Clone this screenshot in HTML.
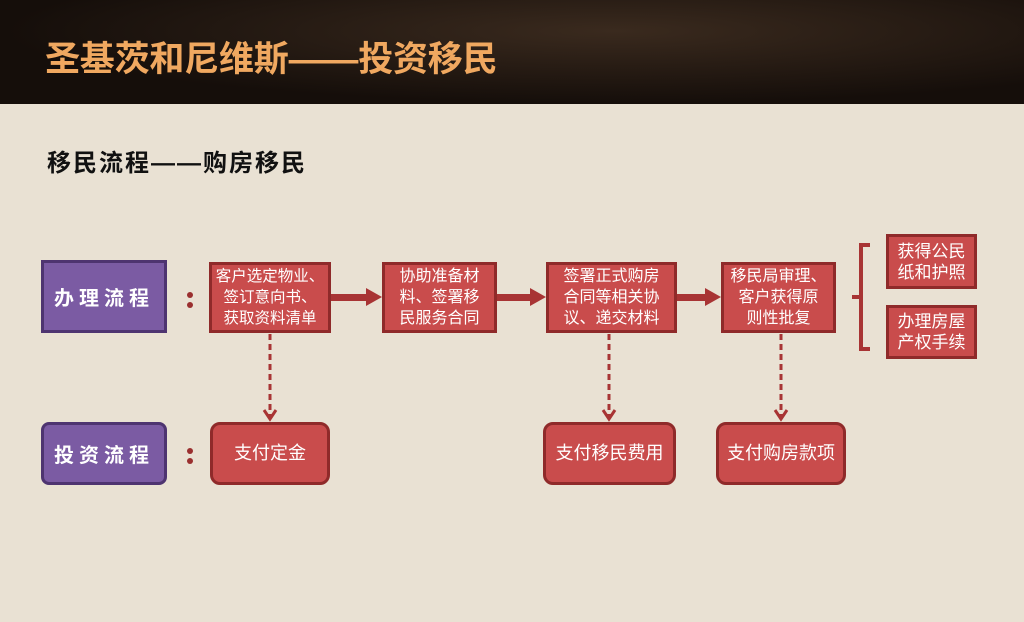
<!DOCTYPE html><html><head><meta charset="utf-8"><style>
body{margin:0;width:1024px;height:622px;overflow:hidden;background:#e9e1d3;font-family:"Liberation Sans","Noto Sans CJK SC",sans-serif;position:relative}
.hd{position:absolute;left:0;top:0;width:1024px;height:104px;background:radial-gradient(ellipse at 60% 30%,#3a2a1e,#150e0a 70%)}
.t{position:absolute;left:45px;top:31px;font-size:35px;font-weight:bold;color:#f0a860;letter-spacing:-0.2px}
.st{position:absolute;left:47px;top:143px;font-size:24px;font-weight:bold;color:#111;letter-spacing:2px}
.b{position:absolute;box-sizing:border-box;display:flex;align-items:center;justify-content:center;text-align:center;color:#fff}
.p{background:#7b5ba3;border:3px solid #4e3470;font-size:20px;font-weight:bold;letter-spacing:5px}
.r{background:#c94c4c;border:3px solid #8f2a2a;font-size:16px;line-height:21px}
.rr{border-radius:10px;font-size:18px}
.c{position:absolute;width:6px;height:6px;border-radius:3px;background:#9a2f2f}
</style></head><body>
<div class="hd"></div>
<div class="t">圣基茨和尼维斯——投资移民</div>
<div class="st">移民流程——购房移民</div>
<div class="b p" style="left:41px;top:260px;width:126px;height:73px">办理流程</div>
<div class="b p" style="left:41px;top:422px;width:126px;height:63px;border-radius:8px">投资流程</div>
<div class="c" style="left:187px;top:292px"></div><div class="c" style="left:187px;top:302px"></div>
<div class="c" style="left:187px;top:448px"></div><div class="c" style="left:187px;top:458px"></div>
<div class="b r" style="left:209px;top:262px;width:122px;height:71px;font-size:15.5px">客户选定物业、<br>签订意向书、<br>获取资料清单</div>
<div class="b r" style="left:382px;top:262px;width:115px;height:71px">协助准备材<br>料、签署移<br>民服务合同</div>
<div class="b r" style="left:546px;top:262px;width:131px;height:71px">签署正式购房<br>合同等相关协<br>议、递交材料</div>
<div class="b r" style="left:721px;top:262px;width:115px;height:71px">移民局审理、<br>客户获得原<br>则性批复</div>
<div class="b r" style="left:886px;top:234px;width:91px;height:55px;font-size:17px">获得公民<br>纸和护照</div>
<div class="b r" style="left:886px;top:305px;width:91px;height:54px;font-size:17px">办理房屋<br>产权手续</div>
<div class="b r rr" style="left:210px;top:422px;width:120px;height:63px">支付定金</div>
<div class="b r rr" style="left:543px;top:422px;width:133px;height:63px">支付移民费用</div>
<div class="b r rr" style="left:716px;top:422px;width:130px;height:63px">支付购房款项</div>
<svg width="1024" height="622" style="position:absolute;left:0;top:0">
<g fill="#a83434" stroke="none">
<rect x="331" y="294" width="36" height="7"/><polygon points="366,288 382,297 366,306"/>
<rect x="497" y="294" width="34" height="7"/><polygon points="530,288 546,297 530,306"/>
<rect x="677" y="294" width="29" height="7"/><polygon points="705,288 721,297 705,306"/>
</g>
<g stroke="#a83434" stroke-width="3" fill="none">
<line x1="270" y1="334" x2="270" y2="418" stroke-dasharray="6,4"/><polyline points="264,410 270,419 276,410"/>
<line x1="609" y1="334" x2="609" y2="418" stroke-dasharray="6,4"/><polyline points="603,410 609,419 615,410"/>
<line x1="781" y1="334" x2="781" y2="418" stroke-dasharray="6,4"/><polyline points="775,410 781,419 787,410"/>
<path d="M870,245 H861 V349 H870 M861,297 H852" stroke-width="4"/>
</g></svg>
</body></html>
